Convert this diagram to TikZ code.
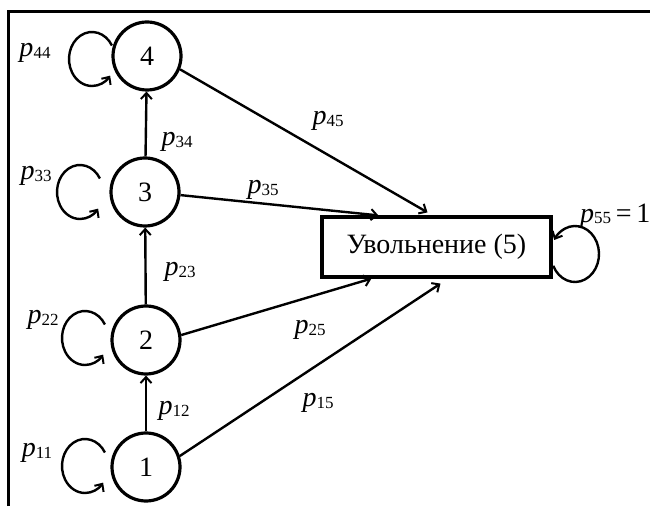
\documentclass[tikz,border=0pt]{standalone}
\usepackage{fontspec}
\setmainfont{Liberation Serif}
\usetikzlibrary{arrows.meta,calc}
% transition probability label: italic p with an upright index
\newcommand\trp[1]{\textit{p}\raisebox{-1.5pt}{\fontsize{17}{17}\selectfont #1}}
\begin{document}
\begin{tikzpicture}[x=1pt,y=1pt,
  state/.style={circle,draw,line width=3.2pt,minimum size=68pt,inner sep=0pt,
    font=\fontsize{28}{30}\selectfont},
  absorb/.style={draw,line width=3.2pt,minimum width=229pt,minimum height=60pt,
    inner sep=0pt,font=\fontsize{28}{30}\selectfont},
  tip/.style={-{Straight Barb[length=6pt,width=11pt,line width=2pt]}},
  arr/.style={line width=2.4pt,tip},
  selfloop/.style={line width=2.4pt,tip},
  lbl/.style={inner sep=0pt,font=\fontsize{28}{30}\selectfont}]
\useasboundingbox (0,0) rectangle (650,506);

% frame (top and left edges only)
\draw[line width=3pt] (8,0) -- (8,494) -- (650,494);

% states
\node[state] (n4) at (147,450) {4};
\node[state] (n3) at (145,314) {3};
\node[state] (n2) at (146,166) {2};
\node[state] (n1) at (146,39) {1};
\node[absorb] (r) at (436.5,259) {Увольнение (5)};

% transitions between states
\draw[arr] (n1) -- (n2);
\draw[arr] (n2) -- (n3);
\draw[arr] (n3) -- (n4);
\draw[arr] (n4.338) -- ($(r.north)+(-9,3)$);
\draw[arr] (n3.355) -- ($(r.north west)+(58,0)$);
\draw[arr] (n2.8) -- ($(r.south west)+(51,0)$);
\draw[arr] (n1.18) -- ($(r.south)+(4,-5)$);

% self loops
\coordinate (c4) at (92,447);
\coordinate (c3) at (80,314);
\coordinate (c2) at (85,168);
\coordinate (c1) at (85,40);
\foreach \c in {c4,c3,c2,c1}
  \draw[selfloop] ([shift={(30:23 and 27)}]\c) arc[start angle=30,end angle=322,x radius=23,y radius=27];
\coordinate (c5) at (575,252);
\draw[selfloop] ([shift={(205:24 and 28)}]c5) arc[start angle=205,end angle=510,x radius=24,y radius=28];

% probability labels
\node[lbl] (l44) at (35,453) {\trp{44}};
\node[lbl] (l33) at (36,330) {\trp{33}};
\node[lbl] (l22) at (43,186) {\trp{22}};
\node[lbl] (l11) at (37,53) {\trp{11}};
\node[lbl] (l34) at (177,364) {\trp{34}};
\node[lbl] (l23) at (180,234) {\trp{23}};
\node[lbl] (l12) at (174,95) {\trp{12}};
\node[lbl] (l45) at (328,385) {\trp{45}};
\node[lbl] (l35) at (263,316) {\trp{35}};
\node[lbl] (l25) at (310,176) {\trp{25}};
\node[lbl] (l15) at (318,103) {\trp{15}};
\node[lbl,anchor=west] (l55) at (580,290) {\trp{55}\,=\,1};
\end{tikzpicture}
\end{document}
